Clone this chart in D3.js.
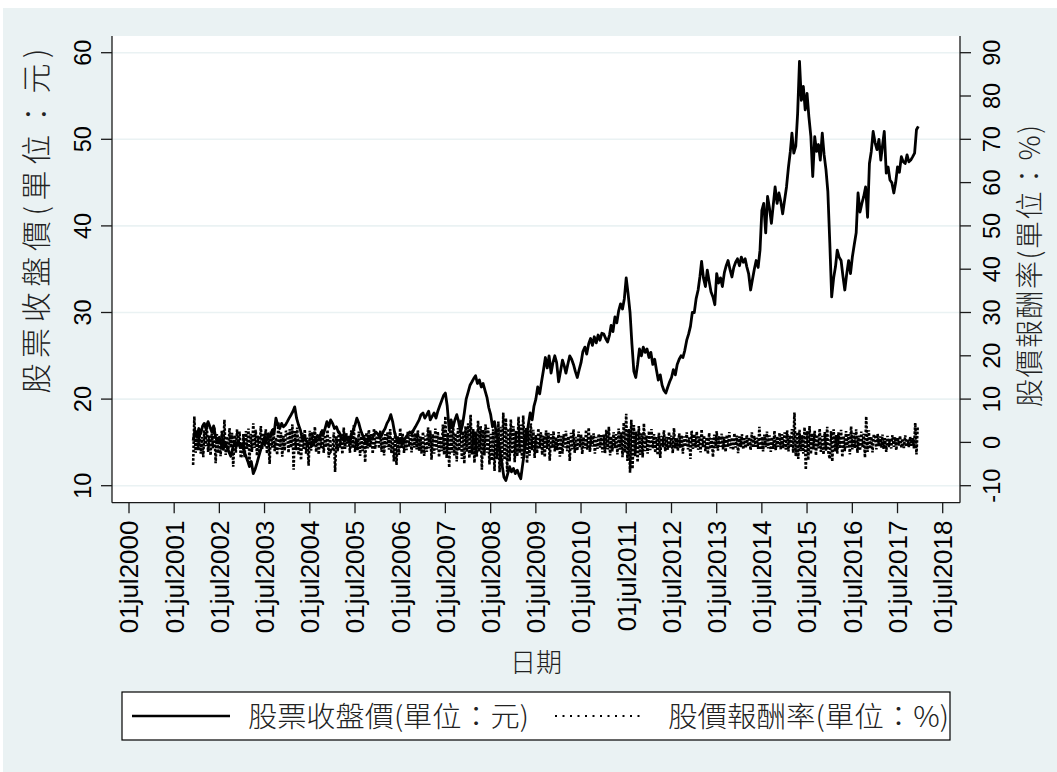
<!DOCTYPE html>
<html>
<head>
<meta charset="utf-8">
<script src="https://cdn.jsdelivr.net/npm/d3@7"></script>
<style>
  html, body { margin: 0; padding: 0; background: #ffffff; }
  svg { display: block; }
</style>
</head>
<body>
<svg id="chart" width="1057" height="772"></svg>
<script>
// ---- Closing price (元), two readings per month (1st and 16th) ----
const close2001 = [15.2, 16.4];                       // from December
const close2002 = [15.8, 16.6, 16.0, 16.9, 17.2, 16.5, 17.4, 16.8, 16.2, 16.9, 15.6, 15.0,
                   15.6, 14.8, 14.2, 15.0, 14.4, 13.9, 13.4, 14.3, 15.0, 14.6, 15.2, 14.4];
const close2003 = [14.8, 14.0, 13.4, 12.8, 12.2, 12.8, 11.4, 11.9, 12.6, 13.4, 14.2, 15.0,
                   15.6, 15.2, 16.0, 15.6, 16.4, 16.0, 17.8, 17.0, 16.6, 17.2, 16.8, 17.0];
const close2004 = [17.4, 17.8, 18.2, 18.6, 19.1, 17.8, 17.0, 16.4, 15.4, 15.8, 15.2, 14.8,
                   15.0, 14.6, 14.8, 15.4, 15.8, 15.4, 16.2, 15.8, 16.6, 17.4, 16.8, 17.6];
const close2005 = [17.2, 16.6, 16.8, 16.2, 16.0, 15.6, 15.2, 15.8, 15.4, 15.0, 15.8, 16.4,
                   17.0, 17.8, 17.2, 16.4, 15.8, 15.4, 14.8, 15.2, 15.6, 15.4, 15.9, 16.2];
const close2006 = [16.0, 15.5, 15.8, 16.3, 16.6, 17.2, 17.6, 18.2, 17.4, 16.2, 15.4, 15.0,
                   15.4, 14.9, 15.2, 15.6, 15.9, 16.2, 16.0, 16.4, 16.8, 17.2, 17.6, 18.2];
const close2007 = [18.4, 17.8, 18.2, 18.6, 17.6, 18.0, 18.4, 17.8, 18.6, 19.2, 19.8, 20.4,
                   20.7, 19.2, 16.4, 17.6, 16.8, 17.6, 18.2, 17.4, 16.2, 17.0, 18.4, 20.0];
const close2008 = [20.8, 21.6, 22.0, 22.4, 22.7, 21.8, 22.2, 21.4, 21.8, 21.0, 20.2, 19.0,
                   18.2, 16.8, 17.4, 16.0, 15.2, 13.8, 12.4, 11.0, 10.6, 11.4, 12.2, 11.6];
const close2009 = [12.0, 11.4, 11.8, 11.2, 10.8, 12.4, 14.0, 15.6, 17.0, 18.4, 17.6, 19.2,
                   20.0, 21.4, 20.6, 22.0, 23.4, 24.8, 23.6, 25.0, 23.0, 24.2, 25.0, 24.2];
const close2010 = [22.0, 23.2, 24.5, 23.8, 23.0, 24.0, 25.0, 24.6, 24.0, 23.2, 22.5, 23.4,
                   24.2, 25.5, 26.0, 25.2, 26.4, 27.0, 26.2, 27.2, 26.5, 27.4, 26.8, 27.6];
const close2011 = [27.5, 27.0, 26.6, 27.4, 28.5, 27.8, 29.5, 28.8, 30.2, 31.0, 30.4, 31.6,
                   34.0, 32.2, 30.0, 26.4, 23.2, 22.5, 24.0, 25.8, 25.0, 26.0, 25.4, 25.8];
const close2012 = [24.8, 25.4, 24.0, 24.6, 23.4, 22.2, 22.8, 21.6, 21.0, 20.7, 21.4, 22.0,
                   22.5, 23.4, 22.8, 24.0, 24.6, 25.0, 24.8, 25.6, 26.8, 27.5, 28.4, 30.0];
const close2013 = [30.0, 31.6, 32.6, 34.2, 35.9, 34.0, 33.0, 34.9, 33.6, 32.4, 31.8, 30.9,
                   34.5, 33.4, 34.0, 33.0, 34.6, 35.4, 36.0, 35.0, 34.1, 35.2, 35.8, 36.2];
const close2014 = [35.4, 36.4, 35.8, 36.2, 35.3, 34.5, 32.6, 33.8, 35.0, 36.0, 35.2, 37.2,
                   41.8, 42.6, 39.2, 43.4, 42.0, 40.3, 42.4, 44.5, 42.6, 43.8, 42.8, 41.4];
const close2015 = [43.0, 44.5, 46.8, 48.6, 50.7, 48.4, 49.2, 53.0, 59.0, 54.5, 56.1, 53.4,
                   55.3, 52.6, 50.3, 45.7, 50.3, 48.6, 49.4, 47.6, 50.7, 48.2, 46.5, 44.0];
const close2016 = [38.0, 31.8, 34.0, 35.3, 37.2, 36.4, 36.0, 34.2, 32.6, 34.4, 36.0, 34.5,
                   36.4, 37.8, 39.2, 43.8, 41.6, 42.6, 43.4, 44.5, 41.0, 47.2, 48.6, 50.9];
const close2017 = [49.6, 48.8, 50.0, 47.6, 49.2, 50.9, 46.1, 46.8, 45.3, 45.0, 43.8, 45.0,
                   46.8, 46.2, 48.0, 47.4, 47.2, 48.2, 47.4, 47.6, 48.0, 48.4, 51.1, 51.5];

// ---- Return (%), three readings per month (1st, 11th, 21st) ----
const ret2001 = [-5.2, 6.0, -2.4];                    // from December
const ret2002 = [2.4, -1.8, 3.1, -2.6, 1.2, -3.4, 2.8, -0.9, 4.6, -2.2, 1.6, -3.0,
                 2.1, -1.4, 3.6, -4.8, 1.9, -2.5, 0.8, -3.2, 2.7, -1.6, 5.2, -2.9,
                 1.4, -2.1, 3.3, -1.2, 2.2, -5.6, 1.7, -2.4, 3.0, -1.1, 2.5, -3.6];
const ret2003 = [-2.8, 1.9, -3.4, 2.6, -1.5, 3.2, -4.6, 2.0, -2.2, 4.4, -1.3, 2.9,
                 -3.1, 1.6, -2.4, 3.8, -1.7, 2.2, -0.9, 3.0, -2.6, 1.4, -5.0, 2.5,
                 -1.2, 3.4, -2.0, 1.1, -2.9, 4.8, -1.6, 2.3, -3.3, 1.5, -1.9, 2.7];
const ret2004 = [1.8, -2.4, 3.1, -1.2, 4.2, -6.3, 2.6, -1.8, 3.4, -2.9, 1.3, -4.1,
                 2.2, -1.5, 3.0, -2.6, 1.1, -5.4, 2.7, -1.9, 2.3, -1.0, 3.6, -2.2,
                 1.4, -2.8, 2.0, -1.3, 3.2, -2.4, 1.7, -1.1, 2.9, -3.5, 1.2, -2.0];
const ret2005 = [-1.6, 2.3, -6.8, 1.4, -2.1, 2.9, -1.2, 1.8, -2.7, 3.4, -1.5, 2.2,
                 -1.0, 1.6, -2.4, 2.8, -1.3, 4.0, -2.2, 1.1, -1.8, 2.5, -3.1, 1.4,
                 -2.0, 1.7, -4.6, 2.2, -1.4, 2.9, -1.1, 1.9, -2.6, 3.2, -1.5, 1.0];
const ret2006 = [2.0, -1.4, 2.7, -2.2, 1.3, -3.0, 1.9, -1.1, 2.4, -1.7, 3.1, -2.5,
                 1.2, -4.4, 2.2, -5.2, 1.5, -2.9, 3.3, -1.3, 2.0, -2.4, 1.1, -1.8,
                 2.6, -1.0, 1.7, -2.3, 3.0, -1.2, 2.1, -1.6, 2.8, -2.0, 1.4, -2.6];
const ret2007 = [2.4, -3.1, 1.6, -2.2, 3.5, -1.4, 2.8, -4.0, 1.9, -2.6, 3.2, -1.7,
                 2.5, -3.4, 1.4, -2.0, 4.1, -2.8, 6.0, -3.6, 2.2, -5.8, 3.9, -2.4,
                 4.6, -3.0, 2.1, -4.4, 3.3, -1.9, 5.2, -3.8, 2.6, -4.9, 3.7, -2.2];
const ret2008 = [4.4, -3.6, 6.4, -2.8, 3.1, -4.7, 2.5, -3.3, 5.0, -2.1, 3.8, -6.3,
                 2.9, -3.0, 4.2, -2.4, 3.4, -5.1, 2.0, -4.2, 3.0, -6.6, 2.7, -3.9,
                 4.8, -6.9, 3.6, -5.5, 6.9, -4.0, 5.6, -6.8, 3.2, -4.4, 5.3, -2.6];
const ret2009 = [3.8, -4.6, 2.7, -3.2, 5.9, -2.4, 4.1, -3.7, 6.2, -2.0, 3.3, -4.8,
                 2.6, -3.1, 4.4, -1.8, 2.9, -3.6, 1.7, -2.5, 3.2, -1.4, 2.4, -2.9,
                 1.6, -3.4, 2.8, -1.5, 2.2, -4.2, 1.9, -1.3, 2.6, -2.1, 1.2, -1.8];
const ret2010 = [2.4, -3.3, 1.5, -2.6, 1.9, -1.2, 2.7, -2.0, 1.4, -4.3, 2.2, -1.6,
                 3.0, -2.4, 1.3, -1.9, 2.5, -1.1, 1.8, -2.7, 1.2, -1.4, 2.9, -1.7,
                 3.4, -2.2, 1.6, -1.0, 2.1, -2.6, 1.3, -1.5, 2.0, -1.2, 1.7, -2.3];
const ret2011 = [1.8, -2.5, 2.9, -1.6, 3.6, -3.0, 1.4, -2.1, 2.4, -1.3, 1.9, -2.8,
                 3.2, -1.7, 2.3, -3.4, 4.6, -2.4, 6.6, -4.3, 3.1, -7.0, 5.2, -6.1,
                 4.0, -3.2, 2.5, -4.6, 3.8, -2.9, 2.2, -3.5, 4.4, -2.0, 1.6, -2.6];
const ret2012 = [2.6, -1.8, 3.1, -1.4, 1.9, -2.4, 1.2, -2.9, 2.2, -3.6, 1.5, -1.1,
                 2.8, -2.0, 1.3, -1.7, 2.4, -1.2, 1.6, -2.5, 3.3, -1.4, 1.0, -1.9,
                 2.1, -1.3, 1.7, -2.6, 1.4, -1.0, 2.3, -1.6, 1.2, -3.8, 2.7, -1.5];
const ret2013 = [1.9, -1.2, 2.5, -1.7, 1.4, -2.3, 3.0, -1.1, 1.6, -2.0, 1.2, -2.7,
                 2.2, -1.5, 1.0, -3.4, 1.8, -1.3, 2.6, -1.9, 1.5, -1.0, 2.0, -1.6,
                 1.3, -2.2, 1.7, -1.1, 2.4, -1.4, 1.1, -1.8, 2.1, -1.2, 1.6, -2.5];
const ret2014 = [1.4, -1.1, 1.9, -1.6, 1.0, -1.3, 1.7, -0.9, 1.2, -1.8, 2.3, -1.2,
                 1.5, -1.0, 1.1, -1.5, 3.6, -1.7, 1.3, -2.1, 1.8, -1.1, 2.5, -1.4,
                 1.6, -2.2, 1.2, -1.5, 2.7, -1.8, 1.4, -1.0, 2.2, -1.6, 1.9, -1.3];
const ret2015 = [2.3, -1.7, 2.8, -2.1, 1.6, -1.2, 3.1, -2.4, 6.9, -3.2, 2.4, -3.8,
                 2.9, -2.0, 1.7, -2.6, 3.5, -6.3, 2.6, -4.1, 3.8, -2.7, 2.1, -1.6,
                 2.7, -3.0, 1.8, -1.4, 3.2, -2.2, 1.5, -2.8, 2.4, -1.9, 3.6, -2.5];
const ret2016 = [-3.8, 2.6, -4.4, 3.0, -2.1, 1.7, -2.6, 2.3, -1.4, 2.9, -3.4, 1.5,
                 -2.0, 2.6, -1.2, 1.9, -2.8, 3.7, -1.6, 2.2, -1.3, 3.0, -2.4, 1.6,
                 -1.9, 2.5, -1.1, 2.0, -3.5, 6.0, -2.2, 2.8, -1.5, 1.3, -2.3, 1.8];
const ret2017 = [1.2, -1.6, 2.0, -0.9, 1.4, -1.2, 1.8, -1.5, 1.0, -2.2, 1.5, -1.1,
                 0.8, -1.4, 1.7, -1.0, 1.2, -1.8, 1.1, -0.7, 1.5, -1.2, 0.9, -1.3,
                 1.6, -1.0, 0.7, -1.1, 1.3, -0.8, 1.0, -1.4, 4.5, -2.8, 3.6];

const dataYears = [2001, 2002, 2003, 2004, 2005, 2006, 2007, 2008, 2009,
                   2010, 2011, 2012, 2013, 2014, 2015, 2016, 2017];
const closeByYear = [close2001, close2002, close2003, close2004, close2005, close2006,
                     close2007, close2008, close2009, close2010, close2011, close2012,
                     close2013, close2014, close2015, close2016, close2017];
const retByYear = [ret2001, ret2002, ret2003, ret2004, ret2005, ret2006, ret2007,
                   ret2008, ret2009, ret2010, ret2011, ret2012, ret2013, ret2014,
                   ret2015, ret2016, ret2017];
const firstMonth = 11;   // series begin in December of the first year

// ---- Axes ----
const leftTicks = [10, 20, 30, 40, 50, 60];
const rightTicks = [-10, 0, 10, 20, 30, 40, 50, 60, 70, 80, 90];
const dateTickYears = d3.range(2000, 2019);

const leftTitle = "股票收盤價(單位：元)";
const rightTitle = "股價報酬率(單位：%)";
const xTitle = "日期";
const legendLabels = ["股票收盤價(單位：元)", "股價報酬率(單位：%)"];

// ---- Build dated series ----
const pricePts = [];
const retPts = [];
dataYears.forEach((yr, k) => {
  const m0 = k === 0 ? firstMonth : 0;
  closeByYear[k].forEach((v, i) => {
    pricePts.push({ date: new Date(yr, m0 + Math.floor(i / 2), i % 2 ? 16 : 1), v });
  });
  retByYear[k].forEach((v, i) => {
    retPts.push({ date: new Date(yr, m0 + Math.floor(i / 3), [1, 11, 21][i % 3]), v });
  });
});

// ---- Layout ----
const W = 1057, H = 772;
const plot = { left: 112, right: 960, top: 36, bottom: 502.7 };
const BG = "#eaf2f3";
const latin = "'Liberation Sans', Arial, Helvetica, sans-serif";
const cjk = "'Noto Sans CJK TC', 'Noto Sans CJK SC', sans-serif";

const x = d3.scaleTime()
  .domain([new Date(2000, 6, 1), new Date(2018, 6, 1)])
  .range([129, 942.7]);
const yL = d3.scaleLinear().domain([10, 60]).range([485.7, 52.7]);
const yR = d3.scaleLinear().domain([-10, 90]).range([485.7, 52.7]);

const svg = d3.select("#chart");

// outer graph region and plot region
svg.append("rect").attr("x", 3).attr("y", 8).attr("width", W - 3).attr("height", H - 8)
  .attr("fill", BG);
svg.append("rect").attr("x", plot.left).attr("y", plot.top)
  .attr("width", plot.right - plot.left).attr("height", plot.bottom - plot.top)
  .attr("fill", "#ffffff");

// horizontal grid at the left-axis ticks
svg.append("g").selectAll("line").data(leftTicks).join("line")
  .attr("x1", plot.left).attr("x2", plot.right)
  .attr("y1", d => yL(d)).attr("y2", d => yL(d))
  .attr("stroke", BG).attr("stroke-width", 1.6);

// series
const retLine = d3.line().x(d => x(d.date)).y(d => yR(d.v));
const priceLine = d3.line().x(d => x(d.date)).y(d => yL(d.v));

svg.append("path").datum(retPts)
  .attr("d", retLine)
  .attr("fill", "none").attr("stroke", "#000")
  .attr("stroke-width", 2.6).attr("stroke-dasharray", "2.6,1.6");

svg.append("path").datum(pricePts)
  .attr("d", priceLine)
  .attr("fill", "none").attr("stroke", "#000")
  .attr("stroke-width", 2.8).attr("stroke-linejoin", "round");

// axis lines
const axisColor = "#1a1a1a";
const ax = svg.append("g").attr("stroke", axisColor).attr("stroke-width", 1.3);
ax.append("line").attr("x1", plot.left).attr("x2", plot.left).attr("y1", plot.top).attr("y2", plot.bottom);
ax.append("line").attr("x1", plot.right).attr("x2", plot.right).attr("y1", plot.top).attr("y2", plot.bottom);
ax.append("line").attr("x1", plot.left).attr("x2", plot.right).attr("y1", plot.bottom).attr("y2", plot.bottom);

// left axis
const gL = svg.append("g");
gL.selectAll("line").data(leftTicks).join("line")
  .attr("x1", plot.left - 11).attr("x2", plot.left)
  .attr("y1", d => yL(d)).attr("y2", d => yL(d))
  .attr("stroke", axisColor).attr("stroke-width", 1.3);
gL.selectAll("text").data(leftTicks).join("text")
  .attr("transform", d => `translate(91,${yL(d)}) rotate(-90)`)
  .attr("text-anchor", "middle")
  .attr("font-family", latin).attr("font-size", 23.5).attr("fill", "#000")
  .text(d => d);

// right axis
const gR = svg.append("g");
gR.selectAll("line").data(rightTicks).join("line")
  .attr("x1", plot.right).attr("x2", plot.right + 11)
  .attr("y1", d => yR(d)).attr("y2", d => yR(d))
  .attr("stroke", axisColor).attr("stroke-width", 1.3);
gR.selectAll("text").data(rightTicks).join("text")
  .attr("transform", d => `translate(1000,${yR(d)}) rotate(-90)`)
  .attr("text-anchor", "middle")
  .attr("font-family", latin).attr("font-size", 23.5).attr("fill", "#000")
  .text(d => d);

// bottom date axis
const fmt = d3.timeFormat("%d%b%Y");
const dateTicks = dateTickYears.map(yr => new Date(yr, 6, 1));
const gB = svg.append("g");
gB.selectAll("line").data(dateTicks).join("line")
  .attr("x1", d => x(d)).attr("x2", d => x(d))
  .attr("y1", plot.bottom).attr("y2", plot.bottom + 10.5)
  .attr("stroke", axisColor).attr("stroke-width", 1.3);
gB.selectAll("text").data(dateTicks).join("text")
  .attr("transform", d => `translate(${x(d)},520.5) rotate(-90)`)
  .attr("text-anchor", "end").attr("dy", "0.36em")
  .attr("font-family", latin).attr("font-size", 26).attr("fill", "#000")
  .text(d => fmt(d).toLowerCase());

// axis titles
svg.append("text")
  .attr("transform", `translate(47,221) rotate(-90)`)
  .attr("text-anchor", "middle")
  .attr("font-family", cjk).attr("font-weight", 300).attr("font-size", 30).attr("fill", "#222")
  .attr("textLength", 345).attr("lengthAdjust", "spacing")
  .text(leftTitle);
svg.append("text")
  .attr("transform", `translate(1040,266) rotate(-90)`)
  .attr("text-anchor", "middle")
  .attr("font-family", cjk).attr("font-weight", 300).attr("font-size", 28).attr("fill", "#222")
  .attr("textLength", 282).attr("lengthAdjust", "spacing")
  .text(rightTitle);
svg.append("text")
  .attr("x", (plot.left + plot.right) / 2).attr("y", 672)
  .attr("text-anchor", "middle")
  .attr("font-family", cjk).attr("font-weight", 300).attr("font-size", 26).attr("fill", "#222")
  .text(xTitle);

// legend
const lg = svg.append("g");
lg.append("rect").attr("x", 122).attr("y", 692).attr("width", 828).attr("height", 48)
  .attr("fill", "#ffffff").attr("stroke", "#000").attr("stroke-width", 1.2);
lg.append("line").attr("x1", 132).attr("x2", 230).attr("y1", 716).attr("y2", 716)
  .attr("stroke", "#000").attr("stroke-width", 2.3);
lg.append("line").attr("x1", 555).attr("x2", 641).attr("y1", 716).attr("y2", 716)
  .attr("stroke", "#000").attr("stroke-width", 2.2).attr("stroke-dasharray", "2,5.5");
lg.selectAll("text").data(legendLabels).join("text")
  .attr("x", (d, i) => i === 0 ? 248 : 668).attr("y", 727)
  .attr("font-family", cjk).attr("font-weight", 300).attr("font-size", 28).attr("fill", "#222")
  .attr("textLength", 281).attr("lengthAdjust", "spacingAndGlyphs")
  .text(d => d);
</script>
</body>
</html>
